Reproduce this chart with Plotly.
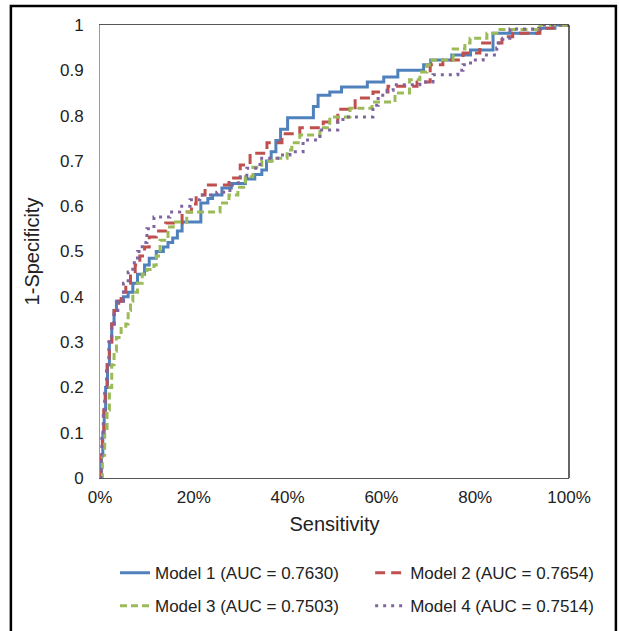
import plotly.graph_objects as go

# Sensitivity (%) and 1-Specificity values (step points)
m1_x = [0, 0.3, 0.6, 0.9, 1.2, 1.6, 2.0, 2.5, 3.0, 3.5, 5, 6, 7, 8, 9.5, 10.5, 12, 13.5, 14.5, 15.5,
        16.5, 17.5, 21.5, 23, 24, 26, 28, 31, 33, 34.5, 35.5, 36.5, 37.5, 38.5, 40, 45.5, 46.5, 49, 51.5,
        57, 60.5, 63.5, 69, 70.5, 75, 79, 83.8, 93.5, 97, 100]
m1_y = [0, .05, .10, .15, .20, .25, .30, .34, .37, .39, .40, .41, .43, .45, .47, .485, .50, .51, .52, .53,
        .545, .565, .607, .617, .625, .64, .65, .66, .67, .68, .70, .72, .745, .77, .795, .82, .845, .852, .863,
        .874, .885, .90, .912, .923, .934, .945, .982, .993, 1.0, 1.0]

m2_x = [0, 0.2, 0.5, 0.8, 1.1, 1.5, 2.0, 2.5, 3.0, 4.0, 4.5, 5.5, 6.5, 7.5, 8.5, 9.5, 10.5, 12, 14, 17.5,
        19.5, 20.5, 22.4, 27.5, 29.9, 32, 35.6, 38.8, 42.6, 47.6, 50.7, 54.4, 58.2, 61.4, 67.6, 70.4, 73.1,
        77.4, 81, 85.7, 88, 93.8, 96.6, 100]
m2_y = [0, .05, .10, .15, .20, .25, .30, .34, .37, .39, .41, .43, .45, .47, .49, .51, .532, .545, .563, .587,
        .605, .625, .647, .662, .691, .717, .74, .76, .773, .786, .814, .839, .852, .865, .874, .912, .923,
        .938, .96, .974, .982, .993, 1.0, 1.0]

m3_x = [0, 0.5, 1.0, 1.5, 2.0, 2.5, 3.0, 3.5, 4.5, 5.5, 6, 6.5, 7, 8, 9, 10, 11.5, 12, 12.8, 14.5, 15.6,
        18.5, 25.6, 27.5, 29.4, 31, 32.6, 34.5, 36.7, 39.9, 40.9, 42.6, 46.9, 49, 53.3, 58, 62.9, 66, 68.2,
        69.7, 70.8, 75.3, 77.8, 78.9, 82.5, 84.6, 93.8, 100]
m3_y = [0, .05, .10, .15, .20, .25, .28, .31, .33, .34, .37, .39, .41, .43, .45, .46, .47, .49, .525, .554, .565,
        .587, .607, .625, .642, .665, .686, .70, .706, .724, .74, .757, .773, .797, .816, .83, .85, .879, .896,
        .912, .923, .947, .96, .971, .982, .99, 1.0, 1.0]

m4_x = [0, 0.2, 0.4, 0.7, 1.0, 1.4, 1.9, 2.5, 3.0, 3.8, 5.0, 6.0, 7.0, 8.0, 9.0, 10, 11.5, 14.9, 17, 19.2,
        21.3, 24.9, 27.7, 29.5, 31.3, 34.1, 38.4, 40.5, 43.3, 46.9, 50.7, 51.8, 58.2, 59.3, 61.2, 62.5, 68.2,
        71, 76.3, 77.4, 79, 81.7, 84.6, 84.9, 85.9, 87.4, 94, 100]
m4_y = [0, .05, .10, .15, .20, .25, .30, .34, .37, .39, .43, .455, .475, .50, .52, .55, .576, .587, .60, .614,
        .625, .631, .647, .665, .684, .706, .713, .72, .746, .768, .786, .797, .823, .845, .856, .868, .874,
        .89, .90, .912, .923, .934, .949, .96, .971, .991, 1.0, 1.0]

names = ["Model 1 (AUC = 0.7630)", "Model 2 (AUC = 0.7654)",
         "Model 3 (AUC = 0.7503)", "Model 4 (AUC = 0.7514)"]
colors = ["#4F81BD", "#C0504D", "#9BBB59", "#8064A2"]
dashes = ["solid", "10px,6px", "7px,4px", "3px,5px"]
legend_ids = ["legend", "legend2", "legend3", "legend4"]
x_ticks = [0, 20, 40, 60, 80, 100]
x_tick_text = ["0%", "20%", "40%", "60%", "80%", "100%"]
xs = [m1_x, m2_x, m3_x, m4_x]
ys = [m1_y, m2_y, m3_y, m4_y]

fig = go.Figure()
for x, y, n, c, d, lg in zip(xs, ys, names, colors, dashes, legend_ids):
    fig.add_trace(go.Scatter(x=x, y=y, name=n, mode="lines", line_shape="hv", legend=lg,
                             line=dict(color=c, width=3, dash=d)))

font = "Liberation Sans, Arial, sans-serif"
leg_common = dict(orientation="h", xanchor="left", yanchor="middle",
                  font=dict(family=font, size=17, color="#222"),
                  bgcolor="rgba(0,0,0,0)")
col1, col2 = 0.032, 0.576
row1, row2 = -0.210, -0.283
fig.update_layout(
    width=619, height=631,
    margin=dict(l=100, r=50, t=25, b=153, autoexpand=False),
    paper_bgcolor="white", plot_bgcolor="white",
    font=dict(family=font, size=17, color="#222"),
    showlegend=True,
    legend=dict(x=col1, y=row1, **leg_common),
    legend2=dict(x=col2, y=row1, **leg_common),
    legend3=dict(x=col1, y=row2, **leg_common),
    legend4=dict(x=col2, y=row2, **leg_common),
    xaxis=dict(range=[0, 100], tickvals=x_ticks, ticktext=x_tick_text,
               showgrid=False, zeroline=False, showline=True, linecolor="#555", linewidth=1,
               mirror=True, ticks="", ticklabelstandoff=4,
               title=dict(text="Sensitivity", font=dict(size=20), standoff=10)),
    yaxis=dict(range=[0, 1], dtick=0.1, showgrid=False, zeroline=False, showline=True,
               linecolor="#999", linewidth=1, ticks="", ticklabelstandoff=12,
               title=dict(text="1-Specificity", font=dict(size=20), standoff=14)),
    shapes=[
        dict(type="line", xref="x domain", yref="y domain", x0=1, x1=1, y0=0, y1=1,
             line=dict(color="#333", width=1.5)),
        dict(type="rect", xref="paper", yref="paper", x0=-0.19, x1=1.10, y0=-0.45, y1=1.042,
             line=dict(color="black", width=2.5)),
    ],
)
fig.write_html("out.html", config={"displayModeBar": False},
               post_script="document.body.style.margin='0';")
